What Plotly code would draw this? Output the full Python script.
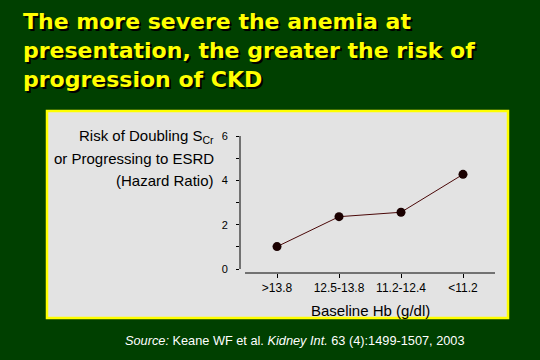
import plotly.graph_objects as go

# ---- data ----
categories = [">13.8", "12.5-13.8", "11.2-12.4", "<11.2"]
hazard_ratios = [1.01, 2.36, 2.56, 4.27]
y_tick_values = [0, 2, 4, 6]
y_tick_labels = ["0", "2", "4", "6"]

title_lines = [
    "The more severe the anemia at",
    "presentation, the greater the risk of",
    "progression of CKD",
]
y_title_lines = [
    "Risk of Doubling S<sub>Cr</sub>",
    "or Progressing to ESRD",
    "(Hazard Ratio)",
]
x_title = "Baseline Hb (g/dl)"
source_text = ("<i>Source:</i> Keane WF et al. <i>Kidney Int.</i> "
               "63 (4):1499-1507, 2003")

# ---- geometry (pixels) ----
W, H = 540, 360
PL, PR, PT, PB = 240, 495, 136, 273   # plot area in pixels


def px_x(p):
    return (p - PL) / (PR - PL)


def px_y(p):
    return (PB - p) / (PB - PT)


GREEN = "#004000"
PANEL = "#E3E3E3"
YELLOW = "#FFFF00"
FONT = "Liberation Sans, Arial, sans-serif"

fig = go.Figure()
fig.add_trace(go.Scatter(
    x=list(range(len(categories))),
    y=hazard_ratios,
    mode="lines+markers",
    line=dict(color="#4a0808", width=1),
    marker=dict(color="#1a0000", size=9),
    hoverinfo="skip",
    showlegend=False,
))

shapes = [
    # gray panel with yellow border
    dict(type="rect", xref="paper", yref="paper",
         x0=px_x(47), x1=px_x(508), y0=px_y(318), y1=px_y(111),
         fillcolor=PANEL, line=dict(color=YELLOW, width=2.5), layer="below"),
    # y axis line (0..6)
    dict(type="line", xref="paper", yref="y", x0=0, x1=0, y0=0, y1=6,
         line=dict(color="black", width=1)),
    # x axis line
    dict(type="line", xref="x", yref="paper", x0=-0.516, x1=3.516, y0=0, y1=0,
         line=dict(color="black", width=1)),
]

annotations = []
title_y = [22, 50, 79]
for t, yy in zip(title_lines, title_y):
    annotations.append(dict(
        text=t, xref="paper", yref="paper", x=px_x(21), y=px_y(yy),
        xanchor="left", yanchor="middle", showarrow=False,
        font=dict(family="DejaVu Sans, sans-serif", size=22, color=YELLOW,
                  weight="bold", shadow="2px 2px 0px black")))

yt_y = [136, 158, 180]
for t, yy in zip(y_title_lines, yt_y):
    annotations.append(dict(
        text=t, xref="paper", yref="paper", x=px_x(216), y=px_y(yy),
        xanchor="right", yanchor="middle", showarrow=False,
        font=dict(family=FONT, size=15, color="black")))

annotations.append(dict(
    text=x_title, xref="paper", yref="paper", x=px_x(370), y=px_y(310),
    xanchor="center", yanchor="middle", showarrow=False,
    font=dict(family=FONT, size=15, color="black")))

annotations.append(dict(
    text=source_text, xref="paper", yref="paper", x=px_x(123), y=px_y(340),
    xanchor="left", yanchor="middle", showarrow=False,
    font=dict(family=FONT, size=12.75, color="white")))

fig.update_layout(
    width=W, height=H,
    margin=dict(l=PL, r=W - PR, t=PT, b=H - PB, pad=0),
    paper_bgcolor=GREEN,
    plot_bgcolor="rgba(0,0,0,0)",
    shapes=shapes,
    annotations=annotations,
    xaxis=dict(
        range=[-0.597, 3.516],
        tickmode="array",
        tickvals=list(range(len(categories))),
        ticktext=categories,
        ticks="outside", ticklen=4, tickcolor="black",
        showline=False, showgrid=False, zeroline=False,
        tickfont=dict(family=FONT, size=12, color="black"),
        fixedrange=True,
    ),
    yaxis=dict(
        range=[-0.18, 6],
        tickmode="array",
        tickvals=y_tick_values,
        ticktext=y_tick_labels,
        ticks="outside", ticklen=3, tickcolor="black",
        ticklabelstandoff=6,
        minor=dict(dtick=1, tick0=0, ticks="outside", ticklen=3,
                   tickcolor="black"),
        showline=False, showgrid=False, zeroline=False,
        tickfont=dict(family=FONT, size=11, color="black"),
        fixedrange=True,
    ),
)

fig.write_html(
    "out.html",
    config=dict(displayModeBar=False),
    post_script="document.body.style.margin='0';"
                "document.body.style.background='#004000';",
)
